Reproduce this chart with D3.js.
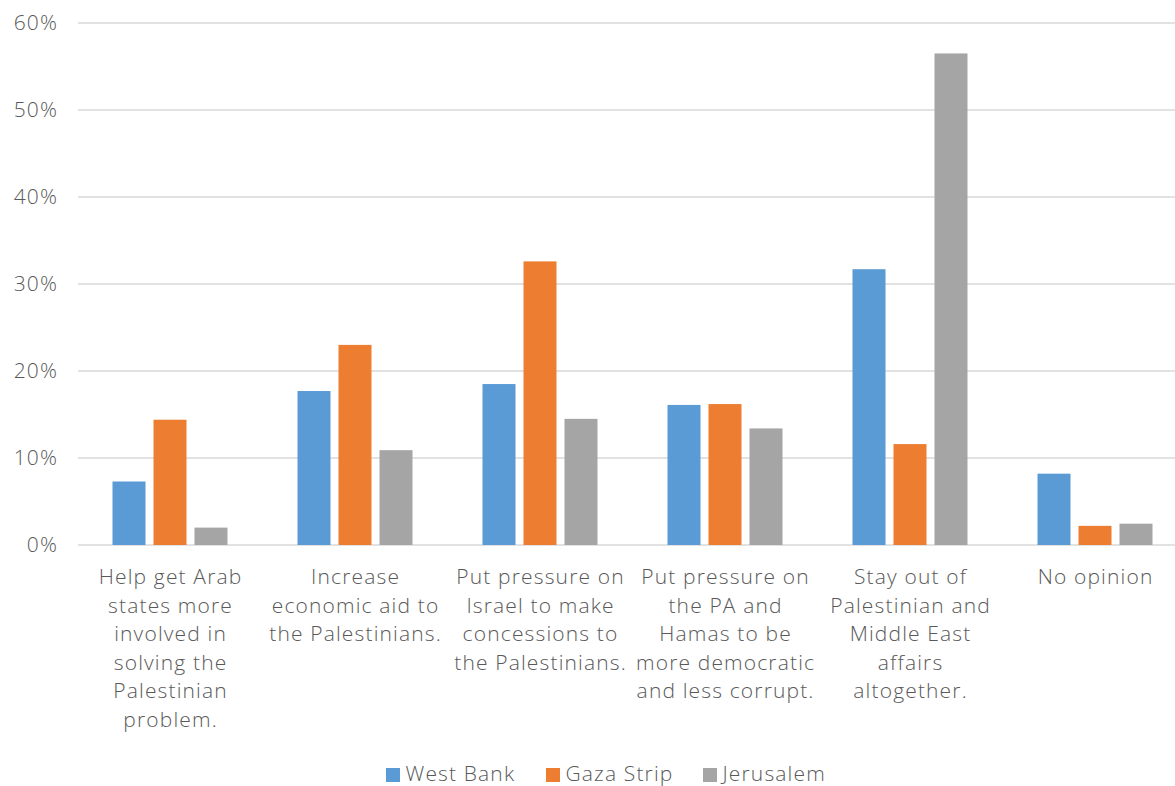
<!DOCTYPE html>
<html><head><meta charset="utf-8">
<script src="https://cdn.jsdelivr.net/npm/d3@7"></script>
<style>body{margin:0;background:#fff}svg{display:block}</style>
</head><body><svg id="c" width="1175" height="786"></svg>
<script>
const categories = [
  ["Help get Arab","states more","involved in","solving the","Palestinian","problem."],
  ["Increase","economic aid to","the Palestinians."],
  ["Put pressure on","Israel to make","concessions to","the Palestinians."],
  ["Put pressure on","the PA and","Hamas to be","more democratic","and less corrupt."],
  ["Stay out of","Palestinian and","Middle East","affairs","altogether."],
  ["No opinion"]
];
const seriesNames = ["West Bank","Gaza Strip","Jerusalem"];
const westBank = [7.3, 17.7, 18.5, 16.1, 31.7, 8.2];
const gazaStrip = [14.4, 23.0, 32.6, 16.2, 11.6, 2.2];
const jerusalem = [2.0, 10.9, 14.5, 13.4, 56.5, 2.45];
const yTicks = [0,10,20,30,40,50,60];
const colors = ["#5B9BD5","#ED7D31","#A5A5A5"];
const series = [westBank, gazaStrip, jerusalem];

const svg = d3.select("#c");
const font = "'Open Sans', Lato, sans-serif";
const fs = 21, ls = 1.15, txtCol = "#595959", fw = 300;
const x = d3.scaleBand().domain(d3.range(categories.length)).range([77.5, 1187.5]);
const y = d3.scaleLinear().domain([0,60]).range([545, 23]);
const xs = d3.scaleBand().domain(d3.range(3)).range([0, 115]).paddingInner(0.195).paddingOuter(0);

// gridlines
svg.append("g").selectAll("line").data(yTicks).join("line")
  .attr("x1", 78).attr("x2", 1188)
  .attr("y1", d => y(d)).attr("y2", d => y(d))
  .attr("stroke", "#d9d9d9").attr("stroke-width", 1.5);

// y axis labels
const yAxis = d3.axisLeft(y).tickValues(yTicks).tickFormat(d => d + "%").tickSize(0).tickPadding(0);
const ga = svg.append("g").attr("transform", "translate(58,0)").call(yAxis);
ga.select(".domain").remove();
ga.selectAll("text").attr("font-family", font).attr("font-size", fs).attr("font-weight", fw)
  .attr("letter-spacing", ls).attr("fill", txtCol);

// bars
series.forEach((s, si) => {
  svg.append("g").selectAll("rect").data(s).join("rect")
    .attr("x", (d, i) => x(i) + x.bandwidth()/2 - 57.5 + xs(si))
    .attr("width", xs.bandwidth())
    .attr("y", d => y(d))
    .attr("height", d => y(0) - y(d))
    .attr("fill", colors[si]);
});

// category labels
const cg = svg.append("g");
categories.forEach((lines, i) => {
  const t = cg.append("text").attr("font-family", font).attr("font-size", fs).attr("font-weight", fw)
    .attr("letter-spacing", ls).attr("fill", txtCol).attr("text-anchor", "middle");
  lines.forEach((ln, j) => {
    t.append("tspan").attr("x", x(i) + x.bandwidth()/2 + ls/2).attr("y", 584 + j*28.6).text(ln);
  });
});

// legend
const legX = [386, 546, 703];
const lg = svg.append("g");
seriesNames.forEach((n, i) => {
  lg.append("rect").attr("x", legX[i]).attr("y", 768).attr("width", 14).attr("height", 14).attr("fill", colors[i]);
  lg.append("text").attr("x", legX[i] + 19.5).attr("y", 781).attr("font-family", font).attr("font-weight", fw)
    .attr("font-size", fs).attr("letter-spacing", ls).attr("fill", txtCol).text(n);
});
</script></body></html>
